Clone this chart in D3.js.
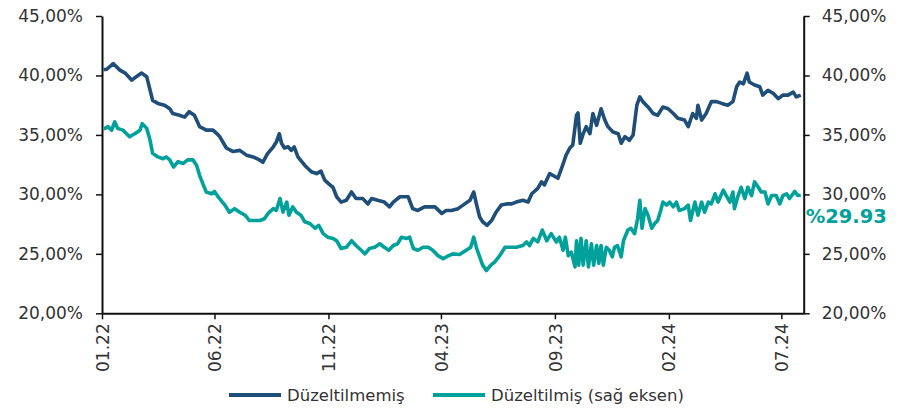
<!DOCTYPE html>
<html>
<head>
<meta charset="utf-8">
<script src="https://cdn.jsdelivr.net/npm/d3@7"></script>
<style>
  body { margin: 0; background: #fff; }
  svg text { font-family: "DejaVu Sans", sans-serif; fill: #333; }
</style>
</head>
<body>
<svg id="chart" width="908" height="409"></svg>
<script>
// Düzeltilmemiş (sol eksen)
const blueDates = [
  "2022-01-03","2022-01-07","2022-01-16","2022-01-25","2022-02-01","2022-02-10","2022-02-16","2022-02-23","2022-03-02","2022-03-06",
  "2022-03-10","2022-03-17","2022-03-26","2022-04-02","2022-04-06","2022-04-15","2022-04-22","2022-04-28","2022-05-05","2022-05-12",
  "2022-05-21","2022-05-30","2022-06-06","2022-06-08","2022-06-17","2022-06-26","2022-07-05","2022-07-14","2022-07-23","2022-07-30",
  "2022-08-05","2022-08-11","2022-08-19","2022-08-23","2022-08-27","2022-08-30","2022-09-03","2022-09-08","2022-09-12","2022-09-16",
  "2022-09-21","2022-09-30","2022-10-09","2022-10-16","2022-10-22","2022-10-27","2022-11-03","2022-11-07","2022-11-12","2022-11-18",
  "2022-11-25","2022-12-02","2022-12-08","2022-12-17","2022-12-24","2022-12-29","2023-01-06","2023-01-15","2023-01-22","2023-01-27",
  "2023-02-05","2023-02-16","2023-02-22","2023-03-01","2023-03-10","2023-03-24","2023-04-02","2023-04-08","2023-04-15","2023-04-24",
  "2023-05-03","2023-05-10","2023-05-15","2023-05-19","2023-05-23","2023-05-27","2023-06-02","2023-06-08","2023-06-14","2023-06-21",
  "2023-06-28","2023-07-05","2023-07-11","2023-07-20","2023-07-27","2023-08-01","2023-08-09","2023-08-14","2023-08-18","2023-08-25",
  "2023-09-01","2023-09-05","2023-09-10","2023-09-16","2023-09-21","2023-09-25","2023-09-30","2023-10-02","2023-10-05","2023-10-09",
  "2023-10-13","2023-10-18","2023-10-22","2023-10-27","2023-11-02","2023-11-07","2023-11-11","2023-11-18","2023-11-25","2023-11-29",
  "2023-12-04","2023-12-10","2023-12-15","2023-12-20","2023-12-24","2023-12-28","2024-01-04","2024-01-11","2024-01-17","2024-01-24",
  "2024-01-31","2024-02-07","2024-02-13","2024-02-22","2024-02-27","2024-03-04","2024-03-09","2024-03-11","2024-03-16","2024-03-22",
  "2024-03-29","2024-04-05","2024-04-12","2024-04-20","2024-04-27","2024-05-02","2024-05-06","2024-05-11","2024-05-16","2024-05-19",
  "2024-05-26","2024-06-02","2024-06-06","2024-06-13","2024-06-20","2024-06-27","2024-07-03","2024-07-10","2024-07-17","2024-07-21",
  "2024-07-27"
];
const blueValues = [
  40.5,40.5,41.0,40.45,40.2,39.6,39.9,40.2,39.9,38.9,
  37.9,37.65,37.5,37.2,36.8,36.65,36.5,36.95,36.65,35.7,
  35.4,35.4,35.0,34.85,33.9,33.6,33.7,33.3,33.15,32.95,
  32.7,33.4,34.0,34.4,35.1,34.3,33.9,34.0,33.7,34.0,
  33.15,32.45,31.9,31.75,31.95,31.2,30.8,30.6,29.8,29.35,
  29.5,30.2,29.65,29.65,29.2,29.65,29.5,29.35,28.95,29.35,
  29.8,29.8,28.8,28.65,28.95,28.95,28.4,28.65,28.65,28.8,
  29.2,29.5,30.2,29.1,28.1,27.7,27.4,27.8,28.5,29.1,
  29.2,29.2,29.35,29.5,29.35,30.05,30.5,31.05,30.8,31.75,
  31.5,31.35,32.2,33.3,33.9,34.15,36.65,36.85,34.3,35.1,
  35.7,35.1,36.8,35.8,37.2,36.25,35.7,35.25,35.1,34.3,
  34.85,34.55,35.0,37.5,38.2,37.8,37.35,36.8,36.65,37.35,
  37.2,36.8,36.4,36.25,35.7,36.8,36.4,37.5,36.25,36.8,
  37.8,37.8,37.65,37.5,37.8,39.05,39.45,39.3,40.2,39.45,
  39.2,39.05,38.35,38.75,38.5,38.05,38.35,38.35,38.6,38.2,
  38.35
];

// Düzeltilmiş (sağ eksen)
const tealDates = [
  "2022-01-03","2022-01-05","2022-01-09","2022-01-14","2022-01-18","2022-01-22","2022-01-29","2022-02-07","2022-02-14","2022-02-21",
  "2022-02-24","2022-03-02","2022-03-06","2022-03-10","2022-03-17","2022-03-24","2022-03-28","2022-04-02","2022-04-07","2022-04-13",
  "2022-04-20","2022-04-26","2022-05-03","2022-05-08","2022-05-12","2022-05-17","2022-05-21","2022-05-28","2022-06-01","2022-06-07",
  "2022-06-15","2022-06-21","2022-06-28","2022-07-05","2022-07-12","2022-07-18","2022-07-25","2022-08-01","2022-08-07","2022-08-12",
  "2022-08-19","2022-08-23","2022-08-28","2022-09-01","2022-09-06","2022-09-09","2022-09-14","2022-09-19","2022-09-25","2022-09-30",
  "2022-10-07","2022-10-14","2022-10-19","2022-10-25","2022-10-31","2022-11-07","2022-11-12","2022-11-18","2022-11-25","2022-12-02",
  "2022-12-08","2022-12-15","2022-12-20","2022-12-26","2023-01-02","2023-01-09","2023-01-15","2023-01-21","2023-01-27","2023-02-02",
  "2023-02-07","2023-02-14","2023-02-18","2023-02-23","2023-03-01","2023-03-08","2023-03-15","2023-03-21","2023-03-28","2023-04-04",
  "2023-04-10","2023-04-17","2023-04-26","2023-05-05","2023-05-11","2023-05-15","2023-05-19","2023-05-23","2023-05-27","2023-06-01",
  "2023-06-07","2023-06-12","2023-06-19","2023-06-26","2023-07-03","2023-07-11","2023-07-20","2023-07-25","2023-07-29","2023-08-03",
  "2023-08-09","2023-08-15","2023-08-21","2023-08-27","2023-09-03","2023-09-07","2023-09-12","2023-09-15","2023-09-19","2023-09-23",
  "2023-09-28","2023-09-30","2023-10-03","2023-10-06","2023-10-09","2023-10-13","2023-10-16","2023-10-20","2023-10-23","2023-10-27",
  "2023-10-30","2023-11-02","2023-11-05","2023-11-09","2023-11-13","2023-11-17","2023-11-20","2023-11-24","2023-11-29","2023-12-02",
  "2023-12-08","2023-12-12","2023-12-17","2023-12-21","2023-12-24","2023-12-27","2023-12-31","2024-01-04","2024-01-09","2024-01-13",
  "2024-01-17","2024-01-21","2024-01-24","2024-01-29","2024-02-02","2024-02-07","2024-02-11","2024-02-15","2024-02-22","2024-02-27",
  "2024-03-01","2024-03-07","2024-03-11","2024-03-16","2024-03-20","2024-03-25","2024-03-29","2024-04-03","2024-04-07","2024-04-14",
  "2024-04-18","2024-04-23","2024-04-27","2024-04-29","2024-05-04","2024-05-08","2024-05-13","2024-05-17","2024-05-22","2024-05-26",
  "2024-05-31","2024-06-04","2024-06-09","2024-06-13","2024-06-18","2024-06-24","2024-06-29","2024-07-03","2024-07-08","2024-07-12",
  "2024-07-19","2024-07-23","2024-07-27"
];
const tealValues = [
  35.55,35.55,35.7,35.4,36.1,35.55,35.4,34.85,35.1,35.4,
  35.95,35.55,34.7,33.45,33.15,33.0,33.15,32.9,32.3,32.75,
  32.6,32.9,32.9,32.45,31.6,30.8,30.2,30.05,30.25,29.7,
  29.1,28.5,28.8,28.5,28.25,27.8,27.8,27.8,27.95,28.4,
  28.8,28.65,29.65,28.5,29.35,28.25,28.95,28.5,28.25,27.7,
  27.55,27.15,27.4,26.7,26.4,26.3,26.1,25.45,25.55,26.1,
  25.7,25.3,25.0,25.45,25.55,25.85,25.55,25.3,25.7,25.85,
  26.4,26.3,26.4,25.45,25.3,25.55,25.55,25.3,24.85,24.6,
  24.8,25.0,24.95,25.3,25.55,26.4,25.45,24.75,24.05,23.6,
  24.05,24.3,24.85,25.55,25.55,25.55,25.7,26.0,25.7,26.3,
  26.0,27.0,26.1,26.7,26.0,26.4,25.3,26.4,24.85,25.15,
  23.9,26.1,24.05,26.3,24.05,26.1,23.9,25.85,24.05,25.7,
  24.2,25.7,24.05,25.55,25.3,24.75,25.55,25.7,24.75,26.1,
  27.0,27.15,26.7,27.95,29.5,27.15,28.8,28.25,27.15,27.55,
  27.8,28.65,29.35,29.1,29.35,28.95,29.35,28.65,28.8,29.1,
  27.8,29.35,28.25,29.35,28.5,29.35,29.2,30.05,29.35,30.35,
  29.9,29.35,30.2,28.8,29.9,30.6,29.65,30.6,29.9,31.05,
  30.6,30.2,30.2,29.2,29.9,29.9,29.2,29.9,30.05,29.65,
  30.25,29.9,29.93
];

const xTickLabels = ["01.22", "06.22", "11.22", "04.23", "09.23", "02.24", "07.24"];
const yTicks = [20, 25, 30, 35, 40, 45];
const seriesNames = ["Düzeltilmemiş", "Düzeltilmiş (sağ eksen)"];
const lastLabel = "%29.93";

const blueColor = "#1f4e79";
const tealColor = "#00a19a";

const parseDay = d3.timeParse("%Y-%m-%d");
const parseTick = d3.timeParse("%m.%y");
const trLocale = d3.formatLocale({ decimal: ",", thousands: ".", grouping: [3], currency: ["", "₺"] });
const fmtPct = v => trLocale.format(".2f")(v) + "%";

const blue = blueDates.map((d, i) => ({ date: parseDay(d), value: blueValues[i] }));
const teal = tealDates.map((d, i) => ({ date: parseDay(d), value: tealValues[i] }));

const svg = d3.select("#chart");
const margin = { top: 16, right: 104.3, bottom: 95.7, left: 102 };
const width = 908, height = 409;

const x = d3.scaleTime()
  .domain([parseDay("2022-01-01"), parseDay("2024-07-31")])
  .range([margin.left, width - margin.right]);

const yLeft = d3.scaleLinear().domain([20, 45]).range([height - margin.bottom, margin.top]);
const yRight = d3.scaleLinear().domain([20, 45]).range([height - margin.bottom, margin.top]);

// axes
const styleAxis = g => {
  g.selectAll(".domain").attr("stroke", "#111").attr("stroke-width", 2);
  g.selectAll(".tick line").attr("stroke", "#111").attr("stroke-width", 1.5);
  g.selectAll("text").style("font-size", "17px").attr("fill", "#333");
};

svg.append("g")
  .attr("transform", `translate(${margin.left},0)`)
  .call(d3.axisLeft(yLeft).tickValues(yTicks).tickFormat(fmtPct).tickSize(6).tickSizeOuter(0).tickPadding(13))
  .call(styleAxis);

svg.append("g")
  .attr("transform", `translate(${width - margin.right},0)`)
  .call(d3.axisRight(yRight).tickValues(yTicks).tickFormat(fmtPct).tickSize(6).tickSizeOuter(0).tickPadding(12))
  .call(styleAxis);

const xAxis = svg.append("g")
  .attr("transform", `translate(0,${height - margin.bottom})`)
  .call(d3.axisBottom(x).tickValues(xTickLabels.map(parseTick)).tickFormat(d3.timeFormat("%m.%y")).tickSize(6).tickSizeOuter(0))
  .call(styleAxis);

xAxis.selectAll("text")
  .attr("transform", "rotate(-90)")
  .attr("x", -10)
  .attr("y", 0)
  .attr("dy", "0.36em")
  .style("text-anchor", "end");

// lines
const lineLeft = d3.line().x(d => x(d.date)).y(d => yLeft(d.value));
const lineRight = d3.line().x(d => x(d.date)).y(d => yRight(d.value));

svg.append("path")
  .datum(teal)
  .attr("d", lineRight)
  .attr("fill", "none")
  .attr("stroke", tealColor)
  .attr("stroke-width", 3.6)
  .attr("stroke-linejoin", "round");

svg.append("path")
  .datum(blue)
  .attr("d", lineLeft)
  .attr("fill", "none")
  .attr("stroke", blueColor)
  .attr("stroke-width", 3.6)
  .attr("stroke-linejoin", "round");

// last value label
const last = teal[teal.length - 1];
svg.append("text")
  .attr("x", width - margin.right + 2)
  .attr("y", yRight(last.value) + 28)
  .style("font-size", "19.5px")
  .style("font-weight", "bold")
  .style("fill", tealColor)
  .text(lastLabel);

// legend
const legend = svg.append("g").attr("transform", "translate(0,395)");
const legendItems = [
  { name: seriesNames[0], color: blueColor, x: 229 },
  { name: seriesNames[1], color: tealColor, x: 433 }
];
legendItems.forEach(item => {
  legend.append("line")
    .attr("x1", item.x).attr("x2", item.x + 52)
    .attr("y1", 0).attr("y2", 0)
    .attr("stroke", item.color)
    .attr("stroke-width", 4);
  legend.append("text")
    .attr("x", item.x + 58)
    .attr("y", 6)
    .style("font-size", "16.5px")
    .text(item.name);
});
</script>
</body>
</html>
